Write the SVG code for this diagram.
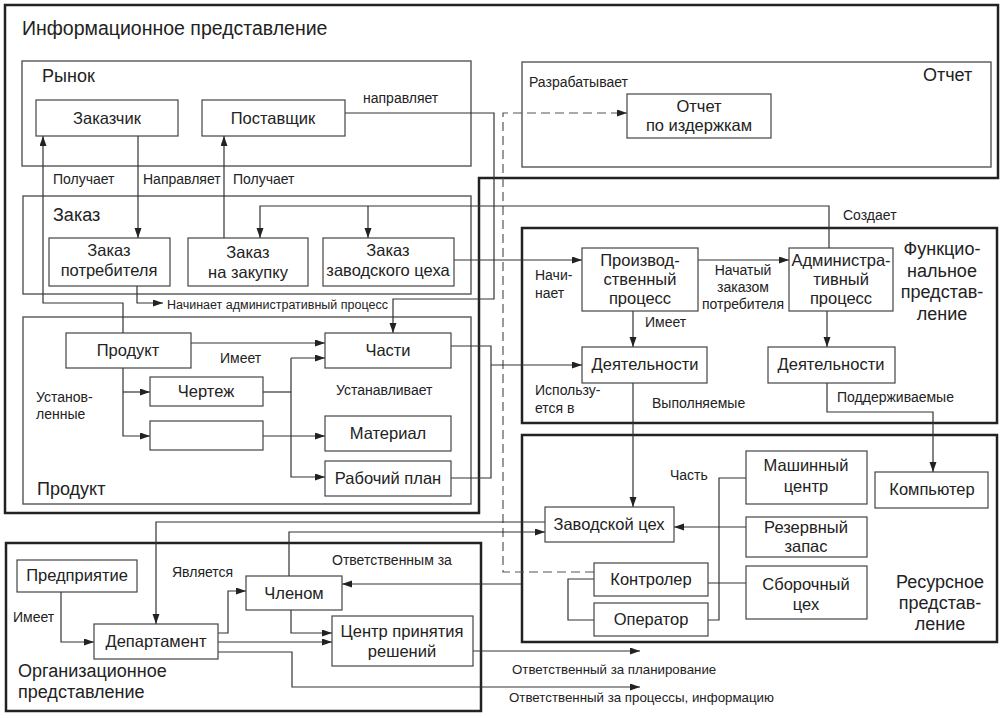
<svg xmlns="http://www.w3.org/2000/svg" width="1005" height="718" viewBox="0 0 1005 718">
<style>
text{font-family:"Liberation Sans",Arial,sans-serif;fill:#222}
.thick{fill:none;stroke:#222;stroke-width:2.5}
.grp{fill:none;stroke:#555;stroke-width:1.4}
.node rect{fill:#fff;stroke:#444;stroke-width:1.2}
.node text{font-size:16.5px;text-anchor:middle}
.c{fill:none;stroke:#333;stroke-width:1.2}
.a{marker-end:url(#arr)}
.d{stroke-dasharray:9 5;stroke:#555}
.gl{font-size:18px}
.lb{font-size:14px}
.sm{font-size:12.5px}
</style>
<defs>
<marker id="arr" markerUnits="userSpaceOnUse" markerWidth="11" markerHeight="8" refX="10" refY="3.5" orient="auto">
<path d="M0,0 L10,3.5 L0,7 z" fill="#222"/>
</marker>
</defs>
<rect width="1005" height="718" fill="#fff"/>
<g id="frames">
<path class="thick" d="M5,5 H998 V178 H479 V513 H5 Z"/>
<text x="22" y="35" font-size="19.5">Информационное представление</text>
<rect class="grp" x="22" y="61" width="449" height="105"/>
<text class="gl" x="42" y="82">Рынок</text>
<rect class="grp" x="522" y="62" width="469" height="105"/>
<text class="gl" x="923" y="81">Отчет</text>
<rect class="grp" x="23" y="196" width="448" height="98"/>
<text class="gl" x="53" y="221">Заказ</text>
<rect class="grp" x="23" y="317" width="448" height="187"/>
<text class="gl" x="37" y="495">Продукт</text>
<rect class="thick" x="522" y="228" width="475" height="195"/>
<text class="gl" text-anchor="middle"><tspan x="942" y="255">Функцио-</tspan><tspan x="942" y="277">нальное</tspan><tspan x="942" y="298">представ-</tspan><tspan x="942" y="320">ление</tspan></text>
<rect class="thick" x="522" y="435" width="475" height="207"/>
<text class="gl" text-anchor="middle"><tspan x="940" y="588">Ресурсное</tspan><tspan x="940" y="609">представ-</tspan><tspan x="940" y="630">ление</tspan></text>
<rect class="thick" x="6" y="543" width="475" height="168"/>
<text class="gl"><tspan x="18" y="677">Организационное</tspan><tspan x="18" y="698">представление</tspan></text>
</g>
<g id="connectors">
<path class="c a" d="M345,113 H494 V299 H393 V333"/>
<path class="c d a" d="M594,572 H503 V113 H627"/>
<path class="c a" d="M138,136 V238"/>
<path class="c a" d="M123,333 V303 H43 V136"/>
<path class="c a" d="M224,238 V136"/>
<path class="c a" d="M137,286 V303 H163"/>
<path class="c a" d="M829,248 V206 H260 V238"/>
<path class="c a" d="M368,206 V238"/>
<path class="c a" d="M454,260 H582"/>
<path class="c a" d="M191,343 H325"/>
<path class="c a" d="M123,368 V436 H150"/>
<path class="c a" d="M123,392 H150"/>
<path class="c" d="M263,392 H291"/>
<path class="c a" d="M291,358 V477 H325"/>
<path class="c a" d="M291,358 H325"/>
<path class="c a" d="M263,436 H325"/>
<path class="c" d="M451,346 H491 V478 H451"/>
<path class="c a" d="M491,365 H582"/>
<path class="c a" d="M698,260 H789"/>
<path class="c a" d="M633,311 V347"/>
<path class="c a" d="M827,311 V347"/>
<path class="c a" d="M633,383 V507"/>
<path class="c a" d="M827,383 V412 H933 V472"/>
<path class="c a" d="M746,527 H674"/>
<path class="c" d="M594,579 H568 V620 H594"/>
<path class="c" d="M708,583 H746"/>
<path class="c" d="M708,620 H719 V478 H746"/>
<path class="c a" d="M545,522 H156 V624"/>
<path class="c a" d="M289,576 V532 H545"/>
<path class="c a" d="M522,584 H342"/>
<path class="c a" d="M61,592 V642 H94"/>
<path class="c a" d="M218,633 H228 V591 H246"/>
<path class="c a" d="M291,610 V633 H332"/>
<path class="c a" d="M218,642 H332"/>
<path class="c a" d="M218,652 H292 V687 H640"/>
<path class="c a" d="M473,651 H640"/>
<text class="lb" x="363" y="103">направляет</text>
<text class="lb" x="529" y="87">Разрабатывает</text>
<text class="lb" x="53" y="184">Получает</text>
<text class="lb" x="143" y="184">Направляет</text>
<text class="lb" x="233" y="184">Получает</text>
<text class="sm" x="167" y="309">Начинает административный процесс</text>
<text class="lb" x="843" y="220">Создает</text>
<text class="lb" x="220" y="363">Имеет</text>
<text class="lb"><tspan x="36" y="402">Установ-</tspan><tspan x="36" y="419">ленные</tspan></text>
<text class="lb" x="336" y="395">Устанавливает</text>
<text class="lb"><tspan x="535" y="280">Начи-</tspan><tspan x="535" y="298">нает</tspan></text>
<text class="lb" text-anchor="middle"><tspan x="743" y="275">Начатый</tspan><tspan x="743" y="292">заказом</tspan><tspan x="743" y="309">потребителя</tspan></text>
<text class="lb" x="645" y="327">Имеет</text>
<text class="lb"><tspan x="535" y="395">Использу-</tspan><tspan x="535" y="413">ется в</tspan></text>
<text class="lb" x="652" y="408">Выполняемые</text>
<text class="lb" x="837" y="402">Поддерживаемые</text>
<text class="lb" x="670" y="480">Часть</text>
<text class="lb" x="332" y="565">Ответственным за</text>
<text class="lb" x="172" y="577">Является</text>
<text class="lb" x="13" y="622">Имеет</text>
<text x="512" y="674" font-size="13.3">Ответственный за планирование</text>
<text x="509" y="702" font-size="13.3">Ответственный за процессы, информацию</text>
</g>
<g id="n-zakazchik" class="node"><rect x="36" y="100" width="142" height="36"/><text x="107" y="124">Заказчик</text></g>
<g id="n-postavshik" class="node"><rect x="202" y="100" width="143" height="36"/><text x="273" y="124">Поставщик</text></g>
<g id="n-otchet" class="node"><rect x="627" y="94" width="144" height="44"/><text><tspan x="699" y="112">Отчет</tspan><tspan x="699" y="131">по издержкам</tspan></text></g>
<g id="n-zakaz-potr" class="node"><rect x="49" y="238" width="121" height="48"/><text><tspan x="109" y="256">Заказ</tspan><tspan x="109" y="276">потребителя</tspan></text></g>
<g id="n-zakaz-zak" class="node"><rect x="188" y="238" width="120" height="48"/><text><tspan x="248" y="258">Заказ</tspan><tspan x="248" y="278">на закупку</tspan></text></g>
<g id="n-zakaz-ceh" class="node"><rect x="323" y="238" width="131" height="48"/><text><tspan x="388" y="256">Заказ</tspan><tspan x="388" y="276">заводского цеха</tspan></text></g>
<g id="n-produkt" class="node"><rect x="66" y="333" width="125" height="35"/><text x="128" y="356">Продукт</text></g>
<g id="n-chasti" class="node"><rect x="325" y="333" width="126" height="35"/><text x="388" y="356">Части</text></g>
<g id="n-chertezh" class="node"><rect x="150" y="377" width="113" height="29"/><text x="206" y="397">Чертеж</text></g>
<g id="n-empty" class="node"><rect x="150" y="421" width="113" height="29"/></g>
<g id="n-material" class="node"><rect x="325" y="416" width="126" height="35"/><text x="388" y="439">Материал</text></g>
<g id="n-plan" class="node"><rect x="325" y="461" width="126" height="35"/><text x="388" y="484">Рабочий план</text></g>
<g id="n-proizv" class="node"><rect x="582" y="248" width="116" height="63"/><text><tspan x="640" y="266">Производ-</tspan><tspan x="640" y="285">ственный</tspan><tspan x="640" y="304">процесс</tspan></text></g>
<g id="n-admin" class="node"><rect x="789" y="248" width="104" height="63"/><text><tspan x="841" y="266">Администра-</tspan><tspan x="841" y="285">тивный</tspan><tspan x="841" y="304">процесс</tspan></text></g>
<g id="n-deyat1" class="node"><rect x="582" y="347" width="125" height="36"/><text x="645" y="370">Деятельности</text></g>
<g id="n-deyat2" class="node"><rect x="768" y="347" width="127" height="36"/><text x="831" y="370">Деятельности</text></g>
<g id="n-mashin" class="node"><rect x="746" y="451" width="121" height="53"/><text><tspan x="806" y="471">Машинный</tspan><tspan x="806" y="492">центр</tspan></text></g>
<g id="n-komp" class="node"><rect x="875" y="472" width="113" height="36"/><text x="932" y="495">Компьютер</text></g>
<g id="n-zavod" class="node"><rect x="545" y="507" width="129" height="35"/><text x="609" y="530">Заводской цех</text></g>
<g id="n-rezerv" class="node"><rect x="746" y="517" width="121" height="40"/><text><tspan x="806" y="533">Резервный</tspan><tspan x="806" y="552">запас</tspan></text></g>
<g id="n-sbor" class="node"><rect x="746" y="566" width="121" height="53"/><text><tspan x="806" y="590">Сборочный</tspan><tspan x="806" y="610">цех</tspan></text></g>
<g id="n-kontr" class="node"><rect x="594" y="563" width="114" height="33"/><text x="651" y="585">Контролер</text></g>
<g id="n-oper" class="node"><rect x="594" y="603" width="114" height="33"/><text x="651" y="625">Оператор</text></g>
<g id="n-predpr" class="node"><rect x="17" y="560" width="120" height="32"/><text x="77" y="581">Предприятие</text></g>
<g id="n-depart" class="node"><rect x="94" y="624" width="124" height="35"/><text x="156" y="647">Департамент</text></g>
<g id="n-chlen" class="node"><rect x="246" y="576" width="96" height="34"/><text x="294" y="599">Членом</text></g>
<g id="n-centr" class="node"><rect x="332" y="616" width="141" height="50"/><text><tspan x="402" y="637">Центр принятия</tspan><tspan x="402" y="657">решений</tspan></text></g>
</svg>
